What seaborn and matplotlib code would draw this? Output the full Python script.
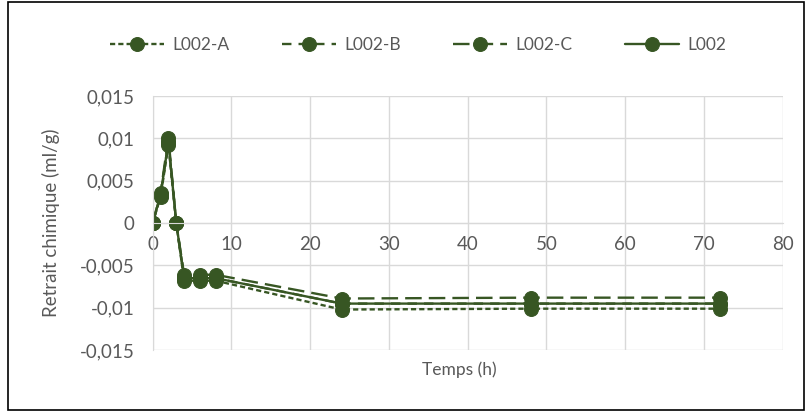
import pandas as pd
import seaborn as sns
import matplotlib.pyplot as plt
import matplotlib.ticker as mticker
from matplotlib.patches import Rectangle

temps = [0, 1, 2, 3, 4, 6, 8, 24, 48, 72]
l002_a = [0, 0.0031, 0.0092, 0, -0.0068, -0.0068, -0.0068, -0.0102, -0.0101, -0.0101]
l002_b = [0, 0.0033, 0.0096, 0, -0.0065, -0.0065, -0.0065, -0.0095, -0.0095, -0.0095]
l002_c = [0, 0.0035, 0.0101, 0, -0.0061, -0.0061, -0.0061, -0.0089, -0.0088, -0.0088]
l002 = [0, 0.0033, 0.0096, 0, -0.0065, -0.0065, -0.0065, -0.0095, -0.0095, -0.0095]

series = ["L002-A", "L002-B", "L002-C", "L002"]

df = pd.DataFrame({"Temps": temps, "L002-A": l002_a, "L002-B": l002_b,
                   "L002-C": l002_c, "L002": l002})
df = df.melt(id_vars="Temps", var_name="Série", value_name="Retrait")

green = "#375623"
grey_txt = "#595959"
grid_col = "#d9d9d9"

sns.set_style("white")
plt.rcParams["font.family"] = ["Lato", "DejaVu Sans"]

fig = plt.figure(figsize=(8.12, 4.12), dpi=100)
ax = fig.add_axes([0.188, 0.150, 0.776, 0.617])

sns.lineplot(data=df, x="Temps", y="Retrait", hue="Série", style="Série",
             hue_order=series, style_order=series,
             palette=[green] * 4,
             dashes={"L002-A": (2.2, 1.3), "L002-B": (4, 3), "L002-C": (7, 3), "L002": ""},
             markers={s: "o" for s in series},
             markersize=10, markeredgecolor=green, linewidth=1.7, ax=ax)

ax.set_xlim(0, 80)
ax.set_ylim(-0.015, 0.015)
ax.xaxis.set_major_locator(mticker.MultipleLocator(10))
ax.yaxis.set_major_locator(mticker.MultipleLocator(0.005))

def comma(v, pos):
    s = f"{v:.3f}".rstrip("0").rstrip(".")
    if s in ("-0", ""):
        s = "0"
    return s.replace(".", ",")

ax.yaxis.set_major_formatter(mticker.FuncFormatter(comma))
ax.xaxis.set_major_formatter(mticker.FuncFormatter(lambda v, p: f"{v:.0f}"))

ax.grid(True, color=grid_col, linewidth=1)
ax.set_axisbelow(True)
for side in ["top", "right"]:
    ax.spines[side].set_visible(False)
ax.spines["bottom"].set_position(("data", 0))
ax.spines["bottom"].set_color(grid_col)
ax.spines["left"].set_color(grid_col)
ax.tick_params(axis="both", length=0, labelsize=13.5, colors=grey_txt)
ax.tick_params(axis="x", pad=9)
ax.tick_params(axis="y", pad=13)

ax.set_xlabel("")
ax.set_ylabel("Retrait chimique (ml/g)", fontsize=13.5, color=grey_txt, labelpad=14)
fig.text(0.566, 0.103, "Temps (h)", ha="center", va="center", fontsize=12.5, color=grey_txt)

handles, labels = ax.get_legend_handles_labels()
ax.legend(handles, labels, ncol=4, loc="center", bbox_to_anchor=(0.515, 0.89),
          bbox_transform=fig.transFigure, frameon=False, fontsize=12.5,
          labelcolor=grey_txt, handlelength=3.1, columnspacing=3.0, handletextpad=0.5)

fig.patches.append(Rectangle((0.01, 0.005), 0.98, 0.99, transform=fig.transFigure,
                             fill=False, edgecolor="black", linewidth=1.2))

fig.savefig("out.png", dpi=100)
